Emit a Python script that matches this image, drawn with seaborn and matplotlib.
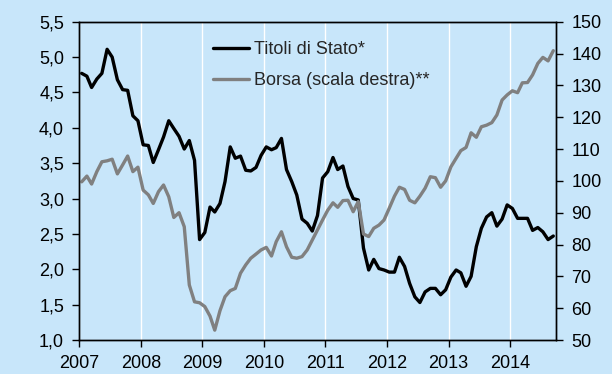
import numpy as np
import pandas as pd
import matplotlib
matplotlib.use("Agg")
import matplotlib.pyplot as plt
import matplotlib.dates as mdates
from matplotlib.lines import Line2D
from matplotlib.ticker import FuncFormatter
import seaborn as sns

# Monthly observations, January 2007 - September 2014
titoli = [
    4.77, 4.73, 4.57, 4.69, 4.77, 5.11, 5.00, 4.68, 4.54, 4.53, 4.17, 4.10,
    3.76, 3.75, 3.51, 3.69, 3.87, 4.10, 3.99, 3.88, 3.70, 3.82, 3.54, 2.42,
    2.52, 2.88, 2.81, 2.93, 3.24, 3.73, 3.57, 3.60, 3.40, 3.39, 3.44, 3.61,
    3.73, 3.69, 3.72, 3.85, 3.41, 3.24, 3.05, 2.71, 2.65, 2.54, 2.76, 3.29,
    3.38, 3.58, 3.41, 3.46, 3.17, 3.00, 2.98, 2.30, 1.99, 2.14, 2.01, 1.99,
    1.96, 1.96, 2.17, 2.04, 1.80, 1.61, 1.53, 1.68, 1.73, 1.73, 1.64, 1.71,
    1.89, 1.99, 1.95, 1.76, 1.90, 2.32, 2.58, 2.74, 2.80, 2.61, 2.71, 2.91,
    2.86, 2.72, 2.72, 2.72, 2.55, 2.59, 2.53, 2.42, 2.47,
]
borsa = [
    99.7, 101.5, 99.0, 102.9, 106.0, 106.3, 106.8, 102.2, 105.0, 107.8, 102.9, 104.3,
    97.1, 95.6, 92.9, 96.6, 98.7, 95.0, 88.5, 90.0, 85.6, 67.3, 62.0, 61.7,
    60.5, 57.5, 53.1, 59.2, 63.6, 65.5, 66.2, 71.0, 73.6, 75.7, 77.0, 78.3,
    79.1, 76.4, 80.9, 84.0, 79.3, 76.0, 75.7, 76.2, 78.3, 81.4, 84.6, 87.7,
    90.8, 93.1, 91.7, 93.8, 93.9, 90.3, 93.5, 83.3, 82.5, 85.1, 86.1, 87.7,
    91.4, 95.2, 98.0, 97.3, 93.9, 93.1, 95.2, 97.7, 101.3, 101.0, 98.0, 100.0,
    104.4, 107.1, 109.5, 110.5, 115.1, 113.7, 117.0, 117.5, 118.3, 120.7, 125.4, 127.0,
    128.3, 127.7, 130.8, 130.9, 133.3, 136.9, 138.8, 137.7, 140.9,
]
months = pd.date_range("2007-01-01", periods=len(titoli), freq="MS") + pd.Timedelta(days=14)
years = list(range(2007, 2015))

label_titoli = "Titoli di Stato*"
label_borsa = "Borsa (scala destra)**"

BG = "#c8e6fa"
FS = 13
sns.set_style("ticks")
plt.rcParams["font.family"] = ["Liberation Sans", "DejaVu Sans"]

fig = plt.figure(figsize=(6.12, 3.74), dpi=100, facecolor=BG)
ax = fig.add_axes([0.1296, 0.0909, 0.7789, 0.851])
ax2 = ax.twinx()

sns.lineplot(x=months, y=titoli, ax=ax, color="black", lw=2.4, legend=False)
sns.lineplot(x=months, y=borsa, ax=ax2, color="#808080", lw=2.4, legend=False)

ax.set_facecolor(BG)
ax.set_xlim(pd.Timestamp("2007-01-01"), pd.Timestamp("2014-10-01"))
ax.set_ylim(1.0, 5.5)
ax2.set_ylim(50, 150)

ax.set_xticks([pd.Timestamp(f"{y}-01-01") for y in years])
ax.xaxis.set_major_formatter(mdates.DateFormatter("%Y"))
ax.set_yticks(np.arange(1.0, 5.51, 0.5))
ax.yaxis.set_major_formatter(FuncFormatter(lambda v, p: f"{v:.1f}".replace(".", ",")))
ax2.set_yticks(np.arange(50, 151, 10))

ax.grid(axis="x", color="white", lw=1.0)
ax.grid(axis="y", visible=False)
ax2.grid(False)
ax.set_axisbelow(True)

for a in (ax, ax2):
    a.set_xlabel("")
    a.set_ylabel("")
    for s in a.spines.values():
        s.set_visible(True)
        s.set_color("black")
        s.set_linewidth(1.0)
    a.tick_params(direction="out", length=5, width=1, color="black",
                  labelsize=FS, labelcolor="black", pad=6)

handles = [Line2D([], [], color="black", lw=2.4),
           Line2D([], [], color="#808080", lw=2.4)]
fig.legend(handles, [label_titoli, label_borsa], loc="upper left",
           bbox_to_anchor=(213 / 612, 1 - 41 / 374), frameon=False, fontsize=FS,
           handlelength=2.0, handletextpad=0.25, labelspacing=0.8,
           borderpad=0, borderaxespad=0)

fig.savefig("out.png", dpi=100, facecolor=BG)
